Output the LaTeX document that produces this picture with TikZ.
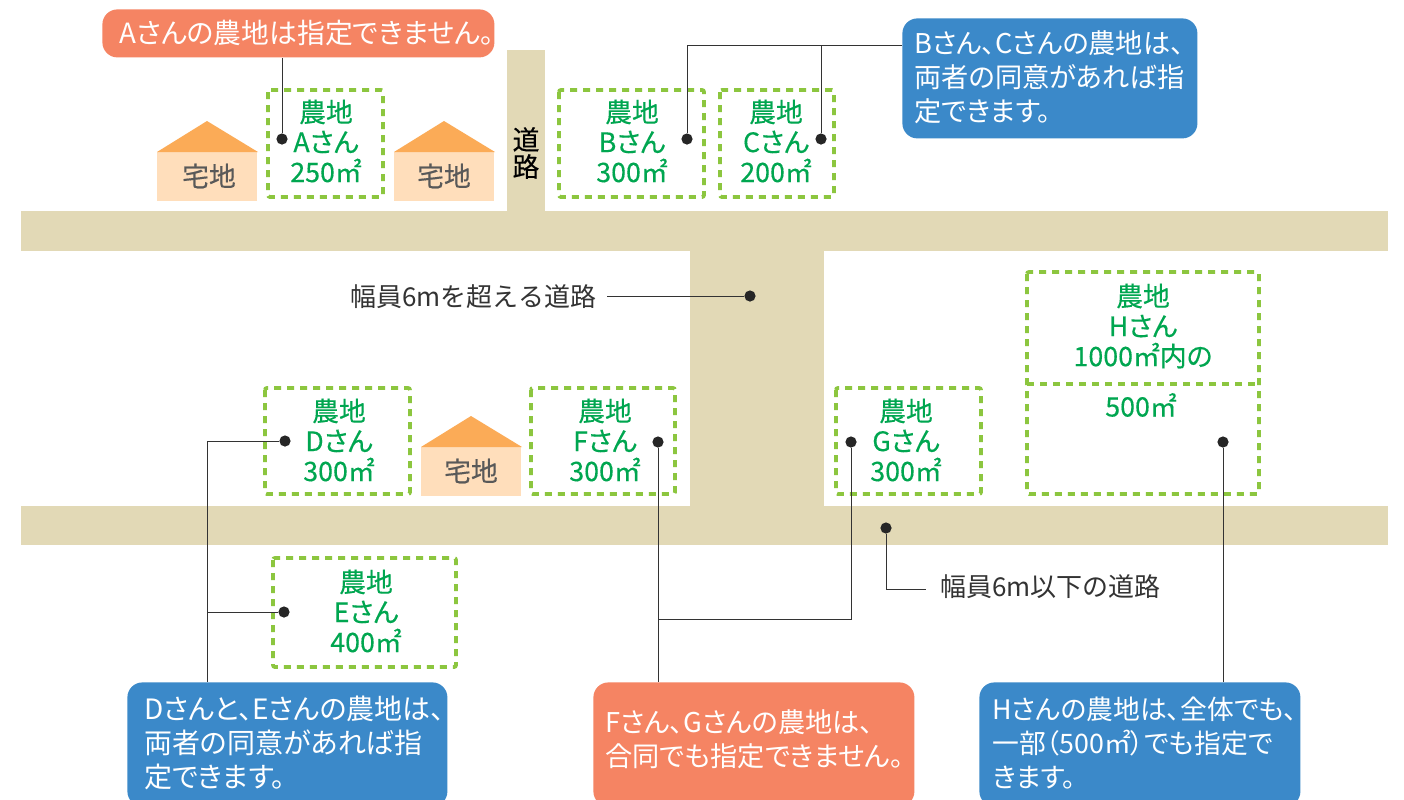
\documentclass[tikz,border=0pt]{standalone}
\usepackage{fontspec}
\setmainfont{Noto Sans CJK JP}
\newfontfamily\callfont[RawFeature=+palt]{Noto Sans CJK JP}
\newfontfamily\heavyfont[RawFeature={+palt;embolden=.35}]{Noto Sans CJK JP}
\definecolor{roadcol}{HTML}{E2D9B6}
\definecolor{wallcol}{HTML}{FFDEBB}
\definecolor{roofcol}{HTML}{FBAB57}
\definecolor{plotcol}{HTML}{8CC63F}
\definecolor{farmcol}{HTML}{00A650}
\definecolor{bluecol}{HTML}{3B89C9}
\definecolor{redcol}{HTML}{F58463}
\definecolor{inkcol}{HTML}{333333}
\tikzset{
plotbox/.style={draw=plotcol,line width=1.9pt,dash pattern=on 3.5pt off 3pt,rounded corners=1pt},
plottext/.style={text=farmcol,align=center,inner sep=0pt,font=\heavyfont\fontsize{13.4}{15}\selectfont},
housetext/.style={text=black!65,inner sep=0pt,font=\heavyfont\fontsize{13.4}{15}\selectfont},
roadtext/.style={text=inkcol,inner sep=0pt,font=\fontsize{13}{15}\selectfont},
callbox/.style={anchor=north west,rounded corners=7.5pt,inner sep=0pt},
calltext/.style={anchor=west,text=white,align=left,inner sep=0pt,font=\callfont\fontsize{#1}{17}\selectfont},
spot/.style={circle,fill=black!85,inner sep=0pt,minimum size=5.6pt},
leader/.style={draw=black!80,line width=.5pt},
}
\begin{document}
\begin{tikzpicture}[x=.5pt,y=-.5pt]
\clip (0,0) rectangle (1404,799);
\fill[white] (0,0) rectangle (1404,799);
% roads
\fill[roadcol] (21,211) rectangle (1388,251);
\fill[roadcol] (21,506) rectangle (1388,545);
\fill[roadcol] (507,50) rectangle (545,211);
\fill[roadcol] (690,251) rectangle (824,506);
\node[inner sep=0pt,align=center,text=black,font=\heavyfont\fontsize{13.4}{13.5}\selectfont] (roadname) at (526,153) {道\\路};
% houses
\foreach \hx/\hy in {157/121,394/121,421/416}{
\fill[wallcol] (\hx,\hy+31) rectangle (\hx+100,\hy+80);
\fill[roofcol] (\hx,\hy+31) -- (\hx+50,\hy) -- (\hx+101,\hy+31) -- cycle;
}
\node[housetext] (housea) at (209,176) {宅地};
\node[housetext] (houseb) at (444,176) {宅地};
\node[housetext] (housec) at (471,471) {宅地};
% plots
\draw[plotbox] (268,90) rectangle (383,197);
\draw[plotbox] (559,90) rectangle (704,197);
\draw[plotbox] (720,90) rectangle (834,197);
\draw[plotbox] (265,388) rectangle (410,494);
\draw[plotbox] (531,388) rectangle (675,494);
\draw[plotbox] (836,388) rectangle (981,494);
\draw[plotbox] (273,558) rectangle (456,667);
\draw[plotbox] (1027,272) rectangle (1259,494);
\draw[plotbox] (1027,384) -- (1259,384);
\node[plottext] (plota) at (326,141) {農地\\Aさん\\250㎡};
\node[plottext] (plotb) at (632,141) {農地\\Bさん\\300㎡};
\node[plottext] (plotc) at (776,141) {農地\\Cさん\\200㎡};
\node[plottext] (plotd) at (339,440) {農地\\Dさん\\300㎡};
\node[plottext] (plotf) at (605,440) {農地\\Fさん\\300㎡};
\node[plottext] (plotg) at (906,440) {農地\\Gさん\\300㎡};
\node[plottext] (plote) at (366,611) {農地\\Eさん\\400㎡};
\node[plottext] (ploth) at (1143,326) {農地\\Hさん\\1000㎡内の};
\node[plottext] (plothh) at (1141,405) {500㎡};
% callouts
\node[callbox,fill=redcol,minimum width=196pt,minimum height=24pt] (calla) at (102,9) {};
\node[callbox,fill=bluecol,minimum width=147.5pt,minimum height=60pt] (callb) at (902,18) {};
\node[callbox,fill=bluecol,minimum width=160pt,minimum height=62pt] (calld) at (127,682) {};
\node[callbox,fill=redcol,minimum width=160.5pt,minimum height=62pt] (callf) at (593,682) {};
\node[callbox,fill=bluecol,minimum width=160.5pt,minimum height=62pt] (callh) at (979,682) {};
\node[calltext=13.9] (texta) at (119,33) {Aさんの農地は指定できません。};
\node[calltext=13.6] (textb) at (914,77) {Bさん、Cさんの農地は、\\両者の同意があれば指\\定できます。};
\node[calltext=14] (textd) at (144,743) {Dさんと、Eさんの農地は、\\両者の同意があれば指\\定できます。};
\node[calltext=13.6] (textf) at (605,739) {Fさん、Gさんの農地は、\\合同でも指定できません。};
\node[calltext=13.4] (texth) at (992,743) {Hさんの農地は、全体でも、\\一部（500㎡）でも指定で\\きます。};
% road labels
\node[roadtext,anchor=west] (widelabel) at (350,297) {幅員6mを超える道路};
\node[roadtext,anchor=west] (narrowlabel) at (940,587) {幅員6m以下の道路};
\coordinate (wideend) at (607,296);
\coordinate (narrowend) at (926,589);
% spots
\node[spot] (spota) at (282,139) {};
\node[spot] (spotb) at (687,139) {};
\node[spot] (spotc) at (821,139) {};
\node[spot] (spotd) at (285,441) {};
\node[spot] (spote) at (284,612) {};
\node[spot] (spotf) at (658,442) {};
\node[spot] (spotg) at (851,442) {};
\node[spot] (spoth) at (1223,442) {};
\node[spot] (spotwide) at (750,296) {};
\node[spot] (spotnarrow) at (886,528) {};
% leaders
\coordinate (joinb) at (687,45);
\coordinate (joinc) at (821,45);
\coordinate (joind) at (207,441);
\coordinate (joine) at (207,612);
\coordinate (joinf) at (658,619);
\draw[leader] (spota) -- (spota |- calla.south);
\draw[leader] (spotb) -- (joinb) -- (callb.west |- joinb);
\draw[leader] (spotc) -- (joinc);
\draw[leader] (spotd) -- (joind) -- (joind |- calld.north);
\draw[leader] (spote) -- (joine);
\draw[leader] (spotf) -- (spotf |- callf.north);
\draw[leader] (spotg) |- (joinf);
\draw[leader] (spoth) -- (spoth |- callh.north);
\draw[leader] (wideend) -- (spotwide);
\draw[leader] (spotnarrow) |- (narrowend);
\end{tikzpicture}
\end{document}
